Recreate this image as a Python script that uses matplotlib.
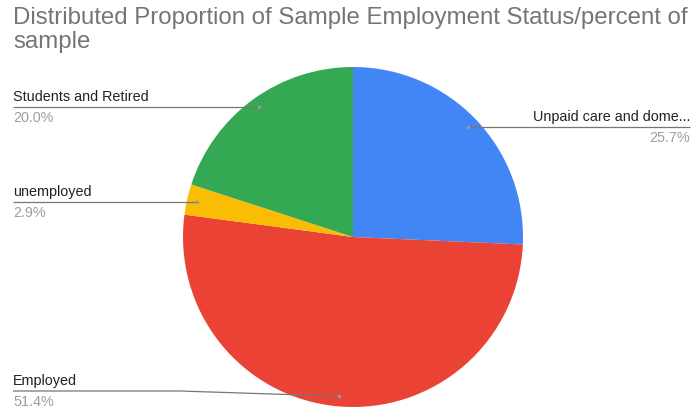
import matplotlib.pyplot as plt
import numpy as np

title = 'Distributed Proportion of Sample Employment Status/percent of\nsample'
labels = ['Unpaid care and dome...', 'Employed', 'unemployed', 'Students and Retired']
shares = [25.7, 51.4, 2.9, 20.0]
colors = ['#4285f4', '#ea4335', '#fbbc04', '#34a853']

# leader line anchor for each label: x, y (pixels from top-left), side
label_pos = [(690, 128, 'right'), (13, 392, 'left'), (13, 203, 'left'), (13, 108, 'left')]

W, H = 697, 410
plt.rcParams['font.family'] = ['Liberation Sans', 'DejaVu Sans']
fig = plt.figure(figsize=(W / 100, H / 100), dpi=100)

cx, cy, r = 353, 238, 170
ax = fig.add_axes([(cx - r) / W, (H - cy - r) / H, 2 * r / W, 2 * r / H])
wedges, _ = ax.pie(shares, colors=colors, startangle=90, counterclock=False, radius=1)
ax.set_xlim(-1, 1)
ax.set_ylim(-1, 1)

# overlay in pixel coordinates for labels and leader lines
ov = fig.add_axes([0, 0, 1, 1])
ov.set_xlim(0, W)
ov.set_ylim(H, 0)
ov.axis('off')
ov.patch.set_alpha(0)

fig.text(13 / W, 1 - 7 / H, title, ha='left', va='top', fontsize=17.3,
         color='#757575', linespacing=1.1)

for w, lab, val, (lx, ly, side) in zip(wedges, labels, shares, label_pos):
    mid = np.radians((w.theta1 + w.theta2) / 2)
    p = (0.94 * np.cos(mid), 0.94 * np.sin(mid))
    px, py = ov.transData.inverted().transform(ax.transData.transform(p))
    if abs(py - ly) > 3:
        xs = [lx, 180, px]
        ys = [ly, ly, py]
    else:
        xs = [lx, px]
        ys = [ly, ly]
        py = ly
    ov.plot(xs, ys, color='#777777', lw=0.9, solid_capstyle='butt')
    ov.plot([px], [py], 'o', color='#999999', ms=2.5, mec='none')
    ov.text(lx, ly - 4, lab, ha=side, va='bottom', fontsize=10.4, color='#222222')
    ov.text(lx, ly + 3, f'{val:.1f}%', ha=side, va='top', fontsize=10.4, color='#9e9e9e')

fig.savefig('out.png', dpi=100)
